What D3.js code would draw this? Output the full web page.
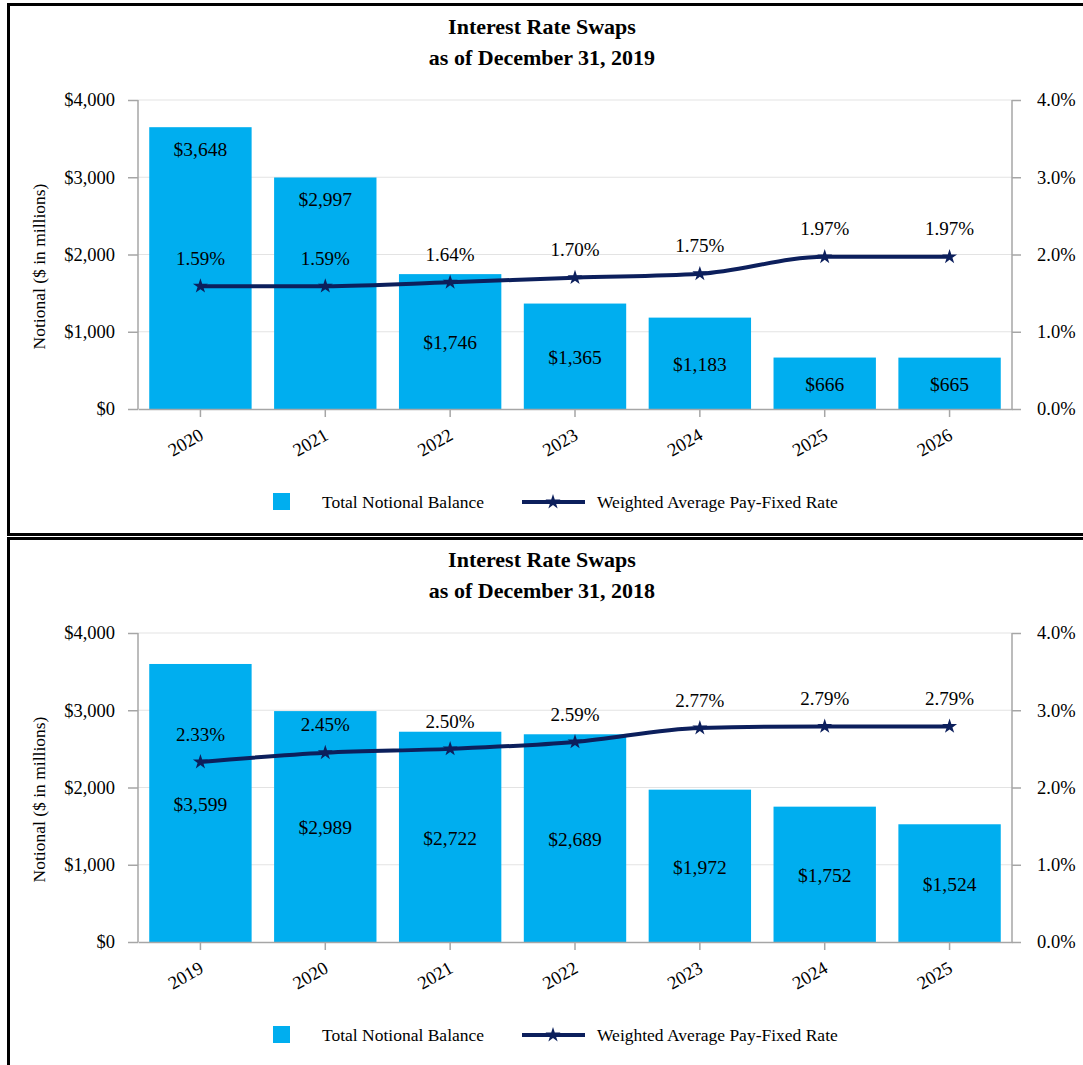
<!DOCTYPE html>
<html>
<head>
<meta charset="utf-8">
<script src="https://cdn.jsdelivr.net/npm/d3@7"></script>
<style>
  body { margin: 0; background: #fff; }
  svg { display: block; font-family: "Liberation Serif", "Times New Roman", serif; }
</style>
</head>
<body>
<svg width="1083" height="1065"></svg>
<script>
// ---- data ----
const years2019 = ["2020", "2021", "2022", "2023", "2024", "2025", "2026"];
const notional2019 = [3648, 2997, 1746, 1365, 1183, 666, 665];
const rate2019 = [1.59, 1.59, 1.64, 1.70, 1.75, 1.97, 1.97];

const years2018 = ["2019", "2020", "2021", "2022", "2023", "2024", "2025"];
const notional2018 = [3599, 2989, 2722, 2689, 1972, 1752, 1524];
const rate2018 = [2.33, 2.45, 2.50, 2.59, 2.77, 2.79, 2.79];

const leftTicks = [0, 1000, 2000, 3000, 4000];
const rightTicks = [0, 1, 2, 3, 4];

const barColor = "#00aeef";
const lineColor = "#0c1f5c";
const axisColor = "#a6a6a6";
const gridColor = "#e3e3e3";

const svg = d3.select("svg");
const star = d3.symbol().type(d3.symbolStar).size(70);

// panel frames
svg.append("rect").attr("x", 8.5).attr("y", 4.5).attr("width", 1200).attr("height", 530)
  .attr("fill", "none").attr("stroke", "#000").attr("stroke-width", 3);
svg.append("rect").attr("x", 8.5).attr("y", 538.5).attr("width", 1200).attr("height", 600)
  .attr("fill", "none").attr("stroke", "#000").attr("stroke-width", 3);

drawPanel(0, "as of December 31, 2019", years2019, notional2019, rate2019);
drawPanel(533, "as of December 31, 2018", years2018, notional2018, rate2018);

function drawPanel(offsetY, subtitle, years, notional, rates) {
  const g = svg.append("g").attr("transform", `translate(0, ${offsetY})`);
  const left = 138, right = 1012, top = 100, bottom = 409;

  const x = d3.scaleBand().domain(years).range([left, right]).paddingInner(0.18).paddingOuter(0.09);
  const y = d3.scaleLinear().domain([0, 4000]).range([bottom, top]);
  const y2 = d3.scaleLinear().domain([0, 4]).range([bottom, top]);
  const cx = (d) => x(d) + x.bandwidth() / 2;

  // title
  g.append("text").attr("x", 542).attr("y", 34).attr("text-anchor", "middle")
    .attr("font-size", 22).attr("font-weight", "bold").text("Interest Rate Swaps");
  g.append("text").attr("x", 542).attr("y", 65).attr("text-anchor", "middle")
    .attr("font-size", 22).attr("font-weight", "bold").text(subtitle);

  // gridlines
  g.append("g").selectAll("line").data(leftTicks.slice(1)).enter().append("line")
    .attr("x1", left).attr("x2", right)
    .attr("y1", (d) => y(d)).attr("y2", (d) => y(d))
    .attr("stroke", gridColor).attr("stroke-width", 1.2);

  // bars
  g.append("g").selectAll("rect").data(notional).enter().append("rect")
    .attr("x", (d, i) => x(years[i]))
    .attr("y", (d) => y(d))
    .attr("width", x.bandwidth())
    .attr("height", (d) => y(0) - y(d))
    .attr("fill", barColor);

  // axes
  const leftAxis = g.append("g").attr("transform", `translate(${left},0)`)
    .call(d3.axisLeft(y).tickValues(leftTicks).tickSize(10).tickPadding(13)
      .tickFormat((d) => "$" + d3.format(",")(d)));
  const rightAxis = g.append("g").attr("transform", `translate(${right},0)`)
    .call(d3.axisRight(y2).tickValues(rightTicks).tickSize(9).tickPadding(16)
      .tickFormat((d) => d3.format(".1f")(d) + "%"));
  const bottomAxis = g.append("g").attr("transform", `translate(0,${bottom})`)
    .call(d3.axisBottom(x).tickSize(8).tickSizeOuter(0).tickFormat(""));
  [leftAxis, rightAxis, bottomAxis].forEach((a) => {
    a.select(".domain").attr("stroke", axisColor).attr("stroke-width", 1.5);
    a.selectAll(".tick line").attr("stroke", axisColor).attr("stroke-width", 1.5);
    a.selectAll("text").attr("font-family", "Liberation Serif").attr("font-size", 18.5).attr("fill", "#000");
  });
  leftAxis.select(".domain").attr("d", `M0,${bottom}V${top}`);
  rightAxis.select(".domain").attr("d", `M0,${bottom}V${top}`);

  // rotated year labels
  g.append("g").selectAll("text").data(years).enter().append("text")
    .attr("transform", (d) => `translate(${cx(d) + 1},${bottom + 24}) rotate(-30)`)
    .attr("text-anchor", "end").attr("dy", "0.35em")
    .attr("font-size", 18.5).text((d) => d);

  // y axis title
  g.append("text").attr("transform", `translate(45,${(top + bottom) / 2 + 12}) rotate(-90)`)
    .attr("text-anchor", "middle").attr("font-size", 17.5)
    .text("Notional ($ in millions)");

  // rate line
  const line = d3.line().curve(d3.curveMonotoneX)
    .x((d, i) => cx(years[i])).y((d) => y2(d));
  g.append("path").datum(rates).attr("d", line)
    .attr("fill", "none").attr("stroke", lineColor).attr("stroke-width", 4);
  g.append("g").selectAll("path").data(rates).enter().append("path")
    .attr("d", star)
    .attr("transform", (d, i) => `translate(${cx(years[i])},${y2(d)})`)
    .attr("fill", lineColor);
  g.append("g").selectAll("text").data(rates).enter().append("text")
    .attr("x", (d, i) => cx(years[i])).attr("y", (d) => y2(d) - 28)
    .attr("text-anchor", "middle").attr("dy", "0.35em").attr("font-size", 19)
    .text((d) => d3.format(".2f")(d) + "%");

  // bar value labels: centred, moved to top of bar when the line is in the way
  g.append("g").selectAll("text").data(notional).enter().append("text")
    .attr("x", (d, i) => cx(years[i]))
    .attr("y", (d, i) => {
      const mid = (y(d) + y(0)) / 2;
      return Math.abs(mid - y2(rates[i])) < 30 ? y(d) + 22 : mid + 1;
    })
    .attr("text-anchor", "middle").attr("dy", "0.35em").attr("font-size", 19.5)
    .text((d) => "$" + d3.format(",")(d));

  // legend
  const lg = g.append("g").attr("transform", "translate(0,502)");
  lg.append("rect").attr("x", 273).attr("y", -9).attr("width", 17).attr("height", 17).attr("fill", barColor);
  lg.append("text").attr("x", 322).attr("y", 0).attr("dy", "0.35em").attr("font-size", 17.5)
    .text("Total Notional Balance");
  lg.append("line").attr("x1", 522).attr("x2", 585).attr("y1", 0).attr("y2", 0)
    .attr("stroke", lineColor).attr("stroke-width", 4);
  lg.append("path").attr("d", star).attr("transform", "translate(553,0)").attr("fill", lineColor);
  lg.append("text").attr("x", 597).attr("y", 0).attr("dy", "0.35em").attr("font-size", 17.5)
    .text("Weighted Average Pay-Fixed Rate");
}
</script>
</body>
</html>
